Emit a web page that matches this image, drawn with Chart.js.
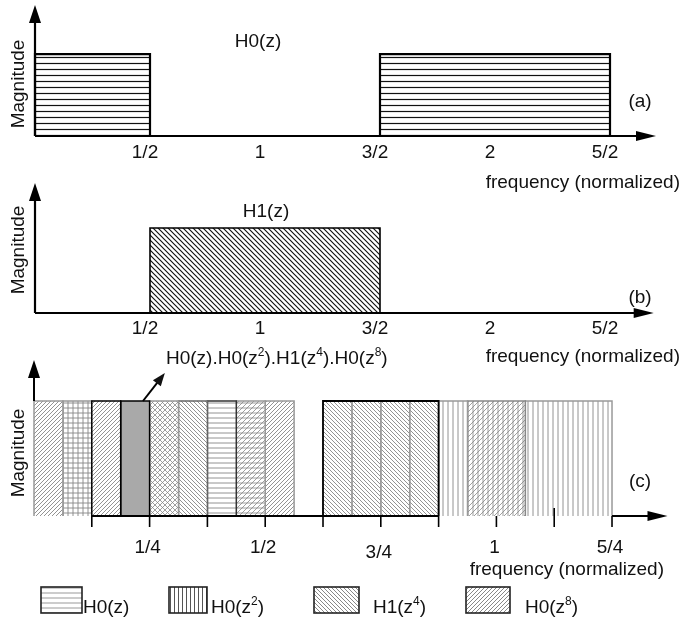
<!DOCTYPE html>
<html><head><meta charset="utf-8">
<script src="https://cdn.jsdelivr.net/npm/chart.js@4.4.1/dist/chart.umd.min.js"></script>
<style>
html,body{margin:0;padding:0;background:#fff;}
#wrap{position:relative;width:681px;height:621px;overflow:hidden;background:#fff;}
#wrap canvas{position:absolute;left:0;top:0;}
</style>
</head><body>
<div id="wrap">
<canvas id="ca" width="681" height="621"></canvas>
<canvas id="cb" width="681" height="621"></canvas>
<canvas id="cc" width="681" height="621"></canvas>
</div>
<script>
// ---------------- DATA ----------------
// Panel (a): H0(z) pass bands (normalized frequency) and magnitude
const bandsA = [[0, 0.5], [1.5, 2.5]];
const magA = [1, 1];
// Panel (b): H1(z) pass band
const bandsB = [[0.5, 1.5]];
const magB = [1];
// Tick values / labels for panels (a) and (b)
const ticksAB = [0.5, 1, 1.5, 2, 2.5];
const tickLabelsAB = ['1/2', '1', '3/2', '2', '5/2'];
// Panel (c): sub-bands of the cascaded filters (in units of 1/16)
const bandsC16 = [[0,1],[1,2],[2,3],[3,4],[4,5],[5,6],[6,7],[7,8],[8,9],
                  [10,11],[11,12],[12,13],[13,14],[14,15],[15,17],[17,20]];
const magC = [1,1,1,1,1,1,1,1,1,1,1,1,1,1,1,1];
// Panel (c) ticks (every 1/8) and labels
const ticksC = [1/8, 2/8, 3/8, 4/8, 5/8, 6/8, 7/8, 1, 9/8, 10/8];
const labelValuesC = [1/4, 1/2, 3/4, 1, 5/4];
const labelTextsC = ['1/4', '1/2', '3/4', '1', '5/4'];
// Highlighted region (H1(z^4) image) in panel (c)
const boxC = [5/8, 7/8];
// Legend
const legendLabels = ['H0(z)', 'H0(z^2)', 'H1(z^4)', 'H0(z^8)'];
const annotation = 'H0(z).H0(z^2).H1(z^4).H0(z^8)';

// ---------------- STYLE ----------------
const FONT = '"Liberation Sans", Arial, sans-serif';
const TXT = '#111';
function pat(kinds, s, color, lw, bg) {
  const c = document.createElement('canvas');
  c.width = s; c.height = s;
  const g = c.getContext('2d');
  g.fillStyle = bg || '#fff'; g.fillRect(0, 0, s, s);
  g.strokeStyle = color; g.lineWidth = lw;
  g.beginPath();
  for (const k of kinds) {
    if (k === 'h') { g.moveTo(0, s/2 + 0.5); g.lineTo(s, s/2 + 0.5); }
    if (k === 'v') { g.moveTo(s/2 + 0.5, 0); g.lineTo(s/2 + 0.5, s); }
    if (k === 'f') { g.moveTo(-1, s+1); g.lineTo(s+1, -1); g.moveTo(-1, 1); g.lineTo(1, -1); g.moveTo(s-1, s+1); g.lineTo(s+1, s-1); }
    if (k === 'b') { g.moveTo(-1, -1); g.lineTo(s+1, s+1); g.moveTo(s-1, -1); g.lineTo(s+1, 1); g.moveTo(-1, s-1); g.lineTo(1, s+1); }
  }
  g.stroke();
  return g.createPattern(c, 'repeat');
}
const HG = '#878787';
const P = {
  aH: pat(['h'], 6, '#111', 1.2),
  bB: pat(['b'], 5, '#111', 1.15),
  f: pat(['f'], 4, HG, 0.9),
  b: pat(['b'], 4, HG, 0.9),
  grid: pat(['h','v'], 5, HG, 0.9),
  cross: pat(['f','b'], 5, HG, 0.8),
  h: pat(['h'], 5, HG, 0.9),
  v: pat(['v'], 5, HG, 0.9),
  fh: pat(['f','h'], 5, HG, 0.8),
  fv: pat(['f','v'], 5, HG, 0.8),
  solid: '#a9a9a9',
  lh: pat(['h'], 5, '#999', 1),
  lv: pat(['v'], 4, '#555', 1),
  lb: pat(['b'], 4, '#888', 1),
  lf: pat(['f'], 4, '#888', 1)
};
// fill style key and border colour for each sub-band of panel (c)
const fillC = ['f','grid','f','solid','cross','b','h','fh','f','b','b','b','b','v','fv','v'];
const edgeC = ['#999','#999','#000','#000','#999','#666','#333','#999','#999','#999','#999','#999','#999','#999','#888','#999'];
const legendFill = ['lh','lv','lb','lf'];

// ---------------- HELPERS ----------------
function rectPts(a, b, h) { return [{x:a,y:0},{x:a,y:h},{x:b,y:h},{x:b,y:0}]; }
function rich(ctx, str, x, y, size, align) {
  const parts = str.split(/\^(\d+)/);
  const sup = Math.round(size * 0.63);
  let w = 0;
  parts.forEach((p, i) => { ctx.font = (i % 2 ? sup : size) + 'px ' + FONT; w += ctx.measureText(p).width; });
  let cx = align === 'center' ? x - w/2 : (align === 'right' ? x - w : x);
  ctx.textAlign = 'left'; ctx.textBaseline = 'alphabetic'; ctx.fillStyle = TXT;
  parts.forEach((p, i) => {
    ctx.font = (i % 2 ? sup : size) + 'px ' + FONT;
    ctx.fillText(p, cx, i % 2 ? y - size * 0.42 : y);
    cx += ctx.measureText(p).width;
  });
}
function vtext(ctx, str, x, y, size) {
  ctx.save(); ctx.translate(x, y); ctx.rotate(-Math.PI/2);
  ctx.font = size + 'px ' + FONT; ctx.fillStyle = TXT;
  ctx.textAlign = 'center'; ctx.textBaseline = 'middle';
  ctx.fillText(str, 0, 0); ctx.restore();
}
function arrowUp(ctx, x, yTop, yBot, lw) {
  ctx.lineWidth = lw; ctx.beginPath(); ctx.moveTo(x, yBot); ctx.lineTo(x, yTop + 10); ctx.stroke();
  ctx.beginPath(); ctx.moveTo(x, yTop); ctx.lineTo(x - 6, yTop + 18); ctx.lineTo(x + 6, yTop + 18); ctx.closePath(); ctx.fill();
}
function arrowRight(ctx, xL, xTip, y, lw) {
  ctx.lineWidth = lw; ctx.beginPath(); ctx.moveTo(xL, y); ctx.lineTo(xTip - 10, y); ctx.stroke();
  ctx.beginPath(); ctx.moveTo(xTip, y); ctx.lineTo(xTip - 20, y - 5); ctx.lineTo(xTip - 20, y + 5); ctx.closePath(); ctx.fill();
}

function makeChart(id, datasets, pad, xmax, ymax, deco) {
  return new Chart(document.getElementById(id), {
    type: 'line',
    data: { datasets },
    options: {
      responsive: false, animation: false, events: [],
      layout: { padding: pad },
      plugins: { legend: { display: false }, tooltip: { enabled: false } },
      elements: { point: { radius: 0 }, line: { tension: 0 } },
      scales: {
        x: { type: 'linear', display: false, min: 0, max: xmax },
        y: { type: 'linear', display: false, min: 0, max: ymax }
      }
    },
    plugins: [{ id: 'deco', afterDraw: deco }]
  });
}

// ---------------- PANEL (a) ----------------
makeChart('ca',
  bandsA.map((b, i) => ({ data: rectPts(b[0], b[1], magA[i]), fill: 'origin', backgroundColor: P.aH,
    borderColor: '#000', borderWidth: 2.2, clip: false })),
  { left: 35, right: 2, top: 5, bottom: 485 }, 2.8, 1.6,
  (chart) => {
    const { ctx } = chart, xs = chart.scales.x, ys = chart.scales.y;
    ctx.save(); ctx.strokeStyle = '#000'; ctx.fillStyle = '#000';
    arrowUp(ctx, xs.getPixelForValue(0), ys.getPixelForValue(ys.max), ys.getPixelForValue(0), 2.2);
    arrowRight(ctx, xs.getPixelForValue(0), xs.getPixelForValue(2.7), ys.getPixelForValue(0), 2.2);
    ctx.font = '19px ' + FONT; ctx.fillStyle = TXT; ctx.textAlign = 'center';
    ticksAB.forEach((v, i) => ctx.fillText(tickLabelsAB[i], xs.getPixelForValue(v) - 5, 158));
    ctx.textAlign = 'right'; ctx.fillText('frequency (normalized)', 680, 188);
    rich(ctx, 'H0(z)', 258, 47, 19, 'center');
    rich(ctx, '(a)', 640, 107, 19, 'center');
    vtext(ctx, 'Magnitude', 19, 84, 19);
    ctx.restore();
  });

// ---------------- PANEL (b) ----------------
makeChart('cb',
  bandsB.map((b, i) => ({ data: rectPts(b[0], b[1], magB[i]), fill: 'origin', backgroundColor: P.bB,
    borderColor: '#000', borderWidth: 1.6, clip: false })),
  { left: 35, right: 2, top: 183, bottom: 308 }, 2.8, 130/85,
  (chart) => {
    const { ctx } = chart, xs = chart.scales.x, ys = chart.scales.y;
    ctx.save(); ctx.strokeStyle = '#000'; ctx.fillStyle = '#000';
    arrowUp(ctx, xs.getPixelForValue(0), ys.getPixelForValue(ys.max), ys.getPixelForValue(0), 2.2);
    arrowRight(ctx, xs.getPixelForValue(0), xs.getPixelForValue(2.69), ys.getPixelForValue(0), 2.2);
    ctx.font = '19px ' + FONT; ctx.fillStyle = TXT; ctx.textAlign = 'center';
    ticksAB.forEach((v, i) => ctx.fillText(tickLabelsAB[i], xs.getPixelForValue(v) - 5, 334));
    ctx.textAlign = 'right'; ctx.fillText('frequency (normalized)', 680, 362);
    rich(ctx, 'H1(z)', 266, 217, 19, 'center');
    rich(ctx, '(b)', 640, 303, 19, 'center');
    vtext(ctx, 'Magnitude', 19, 250, 19);
    ctx.restore();
  });

// ---------------- PANEL (c) ----------------
const dsC = bandsC16.map((b, i) => ({
  data: rectPts(b[0]/16, b[1]/16, magC[i]), fill: 'origin', backgroundColor: P[fillC[i]],
  borderColor: edgeC[i], borderWidth: 1.5, clip: false, order: edgeC[i] === '#000' ? 1 : 2
}));
dsC.push({ data: [{x:boxC[0],y:0},{x:boxC[0],y:1},{x:boxC[1],y:1},{x:boxC[1],y:0}], fill: false,
  borderColor: '#000', borderWidth: 1.8, clip: false, order: 0 });
makeChart('cc', dsC,
  { left: 34, right: 13.5, top: 360, bottom: 105 }, 1.37, 156/115,
  (chart) => {
    const { ctx } = chart, xs = chart.scales.x, ys = chart.scales.y;
    const y0 = ys.getPixelForValue(0);
    ctx.save(); ctx.strokeStyle = '#000'; ctx.fillStyle = '#000';
    arrowUp(ctx, xs.getPixelForValue(0), ys.getPixelForValue(ys.max), ys.getPixelForValue(1), 2);
    ctx.lineWidth = 2;
    ctx.beginPath(); ctx.moveTo(xs.getPixelForValue(1/8), y0); ctx.lineTo(xs.getPixelForValue(7/8), y0); ctx.stroke();
    arrowRight(ctx, xs.getPixelForValue(5/4), xs.getPixelForValue(1.37), y0, 2);
    ctx.lineWidth = 1.6;
    ticksC.forEach(v => { const x = xs.getPixelForValue(v); ctx.beginPath(); ctx.moveTo(x, y0 - (v === 9/8 ? 8 : 0)); ctx.lineTo(x, y0 + 11); ctx.stroke(); });
    ctx.font = '19px ' + FONT; ctx.fillStyle = TXT; ctx.textAlign = 'center';
    labelValuesC.forEach((v, i) => ctx.fillText(labelTextsC[i], xs.getPixelForValue(v) - 2, v === 3/4 ? 558 : 553));
    ctx.textAlign = 'right'; ctx.fillText('frequency (normalized)', 664, 575);
    rich(ctx, '(c)', 640, 487, 19, 'center');
    vtext(ctx, 'Magnitude', 19, 453, 19);
    // annotation arrow from the highlighted sub-band
    const tx = xs.getPixelForValue(0.2357), ty = ys.getPixelForValue(1);
    const hx = xs.getPixelForValue(0.283), hy = ys.getPixelForValue(1.243);
    ctx.lineWidth = 2; ctx.beginPath(); ctx.moveTo(tx, ty); ctx.lineTo(hx - 4, hy + 5); ctx.stroke();
    const ang = Math.atan2(hy - ty, hx - tx);
    ctx.beginPath(); ctx.moveTo(hx, hy);
    ctx.lineTo(hx - 13*Math.cos(ang) + 5*Math.sin(ang), hy - 13*Math.sin(ang) - 5*Math.cos(ang));
    ctx.lineTo(hx - 13*Math.cos(ang) - 5*Math.sin(ang), hy - 13*Math.sin(ang) + 5*Math.cos(ang));
    ctx.closePath(); ctx.fill();
    rich(ctx, annotation, 166, 364, 19, 'left');
    // legend
    const boxes = [[41, 82], [169, 207], [314, 359], [466, 510]];
    const textX = [83, 211, 373, 525];
    legendLabels.forEach((lab, i) => {
      const [l, r] = boxes[i];
      ctx.fillStyle = P[legendFill[i]]; ctx.fillRect(l, 587, r - l, 26);
      ctx.strokeStyle = '#222'; ctx.lineWidth = 1.6; ctx.strokeRect(l, 587, r - l, 26);
      rich(ctx, lab, textX[i], 613, 19, 'left');
    });
    ctx.restore();
  });
</script>
</body></html>
